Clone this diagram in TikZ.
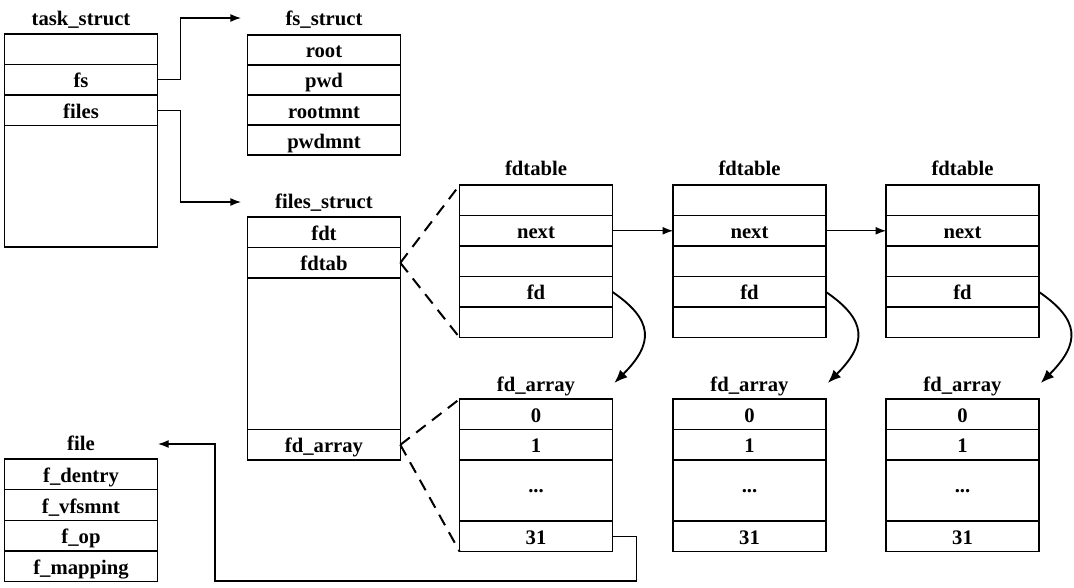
\documentclass[tikz,border=0pt]{standalone}
\usepackage{fontspec}
\setmainfont{Liberation Serif}
\usetikzlibrary{arrows.meta,positioning}
\tikzset{>={Latex[length=8pt,width=6pt]}}
\tikzset{cell/.style={rectangle,draw=black,line width=1.2pt,minimum width=114.5pt,minimum height=22.9pt,
  inner sep=0pt,outer sep=0pt,text height=12pt,text depth=0pt,font=\fontsize{15.5}{18}\selectfont\bfseries}}
\tikzset{title/.style={inner sep=0pt,text height=12pt,text depth=0pt,font=\fontsize{15.5}{18}\selectfont\bfseries}}
\tikzset{link/.style={->,line width=1pt}}
\tikzset{bendlink/.style={->,line width=1.4pt,>={Latex[length=10pt,width=8pt]}}}
\tikzset{fan/.style={line width=1.5pt,dash pattern=on 9pt off 6pt}}

\begin{document}
\begin{tikzpicture}[x=0.75pt,y=0.75pt]
\useasboundingbox (0,0) rectangle (1074,587);
% task_struct
\node (tstitle) [title] at (81,569) {task\_struct};
\node (tsblank) [cell,anchor=north] at (81,553) {};
\node (tsfs) [cell,below=0pt of tsblank] {fs};
\node (tsfiles) [cell,below=0pt of tsfs] {files};
\node (tsrest) [cell,below=0pt of tsfiles,minimum height=91.2pt] {};
% fs_struct
\node (fstitle) [title] at (324,569) {fs\_struct};
\node (fsroot) [cell,anchor=north,minimum height=22.5pt] at (324,552) {root};
\node (fspwd) [cell,below=0pt of fsroot,minimum height=22.5pt] {pwd};
\node (fsrootmnt) [cell,below=0pt of fspwd,minimum height=22.5pt] {rootmnt};
\node (fspwdmnt) [cell,below=0pt of fsrootmnt,minimum height=22.5pt] {pwdmnt};
% files_struct
\node (filestitle) [title] at (324,387) {files\_struct};
\node (flfdt) [cell,anchor=north] at (324,370) {fdt};
\node (flfdtab) [cell,below=0pt of flfdt] {fdtab};
\node (flrest) [cell,below=0pt of flfdtab,minimum height=113.6pt] {};
\node (flarr) [cell,below=0pt of flrest] {fd\_array};
% fdtable 1
\node (t1title) [title] at (536,420) {fdtable};
\node (t1a) [cell,anchor=north] at (536,402) {};
\node (t1next) [cell,below=0pt of t1a] {next};
\node (t1b) [cell,below=0pt of t1next] {};
\node (t1fd) [cell,below=0pt of t1b] {fd};
\node (t1c) [cell,below=0pt of t1fd] {};
% fdtable 2
\node (t2title) [title] at (749.5,420) {fdtable};
\node (t2a) [cell,anchor=north] at (749.5,402) {};
\node (t2next) [cell,below=0pt of t2a] {next};
\node (t2b) [cell,below=0pt of t2next] {};
\node (t2fd) [cell,below=0pt of t2b] {fd};
\node (t2c) [cell,below=0pt of t2fd] {};
% fdtable 3
\node (t3title) [title] at (962.5,420) {fdtable};
\node (t3a) [cell,anchor=north] at (962.5,402) {};
\node (t3next) [cell,below=0pt of t3a] {next};
\node (t3b) [cell,below=0pt of t3next] {};
\node (t3fd) [cell,below=0pt of t3b] {fd};
\node (t3c) [cell,below=0pt of t3fd] {};
% fd_array 1..3
\node (a1title) [title] at (536,204) {fd\_array};
\node (a1zero) [cell,anchor=north] at (536,188) {0};
\node (a1one) [cell,below=0pt of a1zero] {1};
\node (a1dots) [cell,below=0pt of a1one,minimum height=45.75pt,text height=2.5pt] {...};
\node (a1last) [cell,below=0pt of a1dots] {31};
\node (a2title) [title] at (749.5,204) {fd\_array};
\node (a2zero) [cell,anchor=north] at (749.5,188) {0};
\node (a2one) [cell,below=0pt of a2zero] {1};
\node (a2dots) [cell,below=0pt of a2one,minimum height=45.75pt,text height=2.5pt] {...};
\node (a2last) [cell,below=0pt of a2dots] {31};
\node (a3title) [title] at (962.5,204) {fd\_array};
\node (a3zero) [cell,anchor=north] at (962.5,188) {0};
\node (a3one) [cell,below=0pt of a3zero] {1};
\node (a3dots) [cell,below=0pt of a3one,minimum height=45.75pt,text height=2.5pt] {...};
\node (a3last) [cell,below=0pt of a3dots] {31};
% file
\node (filetitle) [title] at (81,145) {file};
\node (fdentry) [cell,anchor=north,minimum height=23pt] at (81,128) {f\_dentry};
\node (fvfsmnt) [cell,below=0pt of fdentry,minimum height=23pt] {f\_vfsmnt};
\node (fop) [cell,below=0pt of fvfsmnt,minimum height=23pt] {f\_op};
\node (fmapping) [cell,below=0pt of fop,minimum height=23pt] {f\_mapping};
%
\coordinate (fsin) at (241,569);
\coordinate (filesin) at (241,385);
\coordinate (turn) at (215,6);
\coordinate (filein) at (158,143);
\coordinate (e1) at ([shift={(2,16)}]a1zero.north east);
\coordinate (e2) at ([shift={(2,16)}]a2zero.north east);
\coordinate (e3) at ([shift={(2,16)}]a3zero.north east);
%
\draw[link] (tsfs.east) -- ++(23,0) |- (fsin);
\draw[link] (tsfiles.east) -- ++(23,0) |- (filesin);
\draw[link] (t1next.east) -- (t2next.west);
\draw[link] (t2next.east) -- (t3next.west);
\draw[bendlink] (t1fd.east) .. controls +(41,-28) and +(40,40) .. (e1);
\draw[bendlink] (t2fd.east) .. controls +(41,-28) and +(40,40) .. (e2);
\draw[bendlink] (t3fd.east) .. controls +(41,-28) and +(40,40) .. (e3);
\draw[fan] (flfdtab.east) -- (t1a.north west);
\draw[fan] (flfdtab.east) -- (t1c.south west);
\draw[fan] (flarr.east) -- (a1zero.north west);
\draw[fan] (flarr.east) -- (a1last.south west);
\draw[link] (a1last.east) -- ++(24,0) |- (turn) |- (filein);
\end{tikzpicture}
\end{document}
